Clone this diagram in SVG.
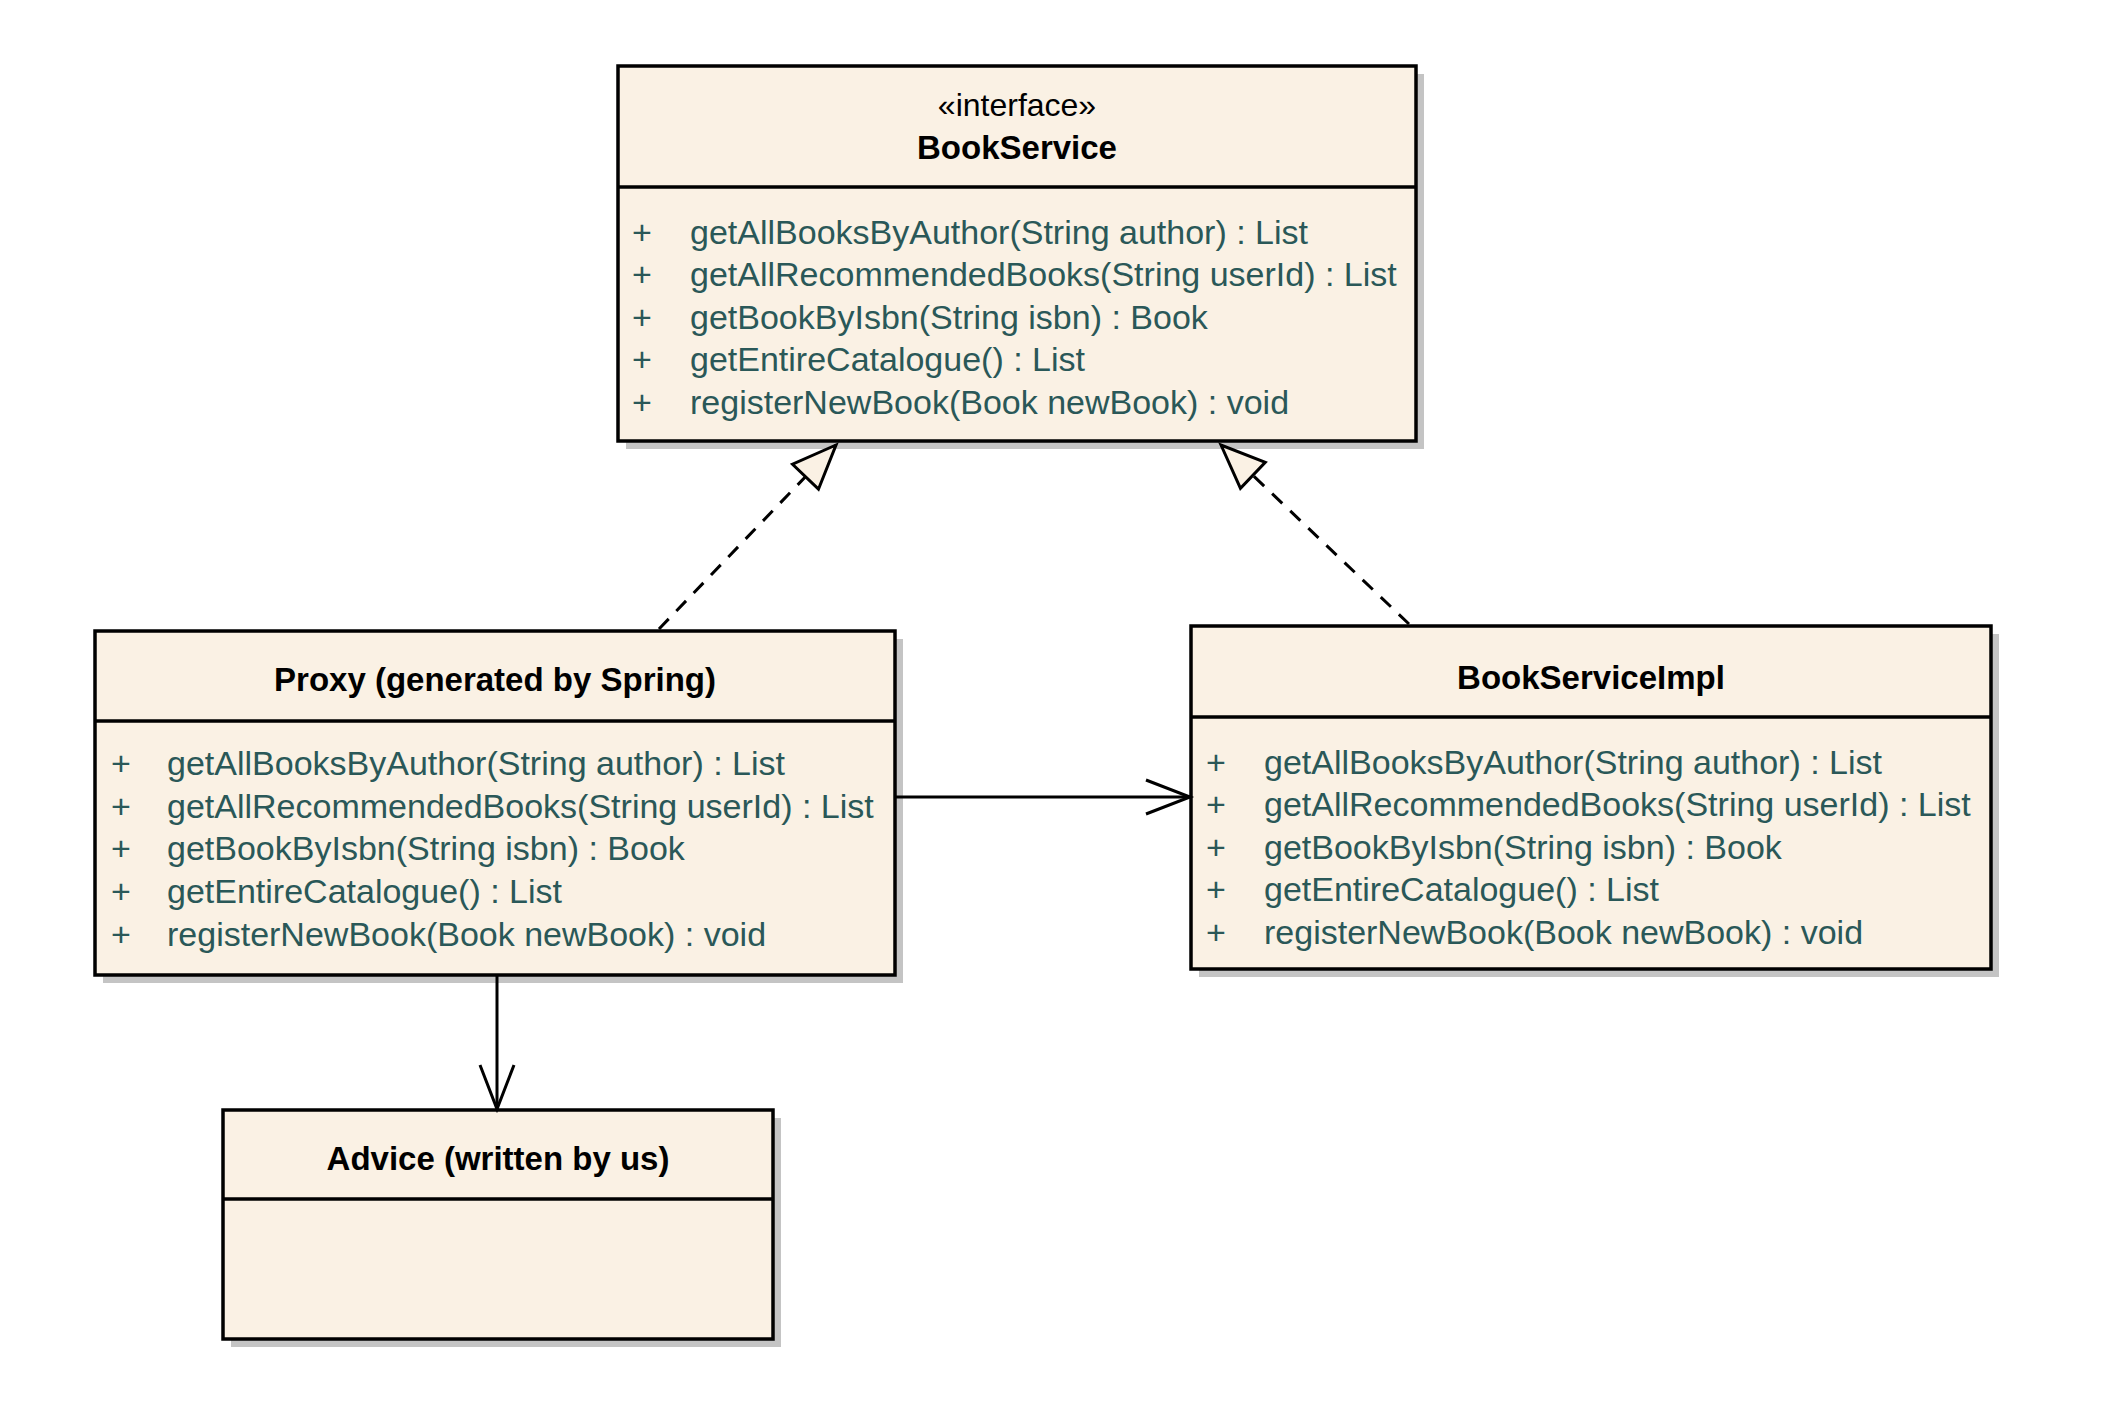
<svg xmlns="http://www.w3.org/2000/svg" width="2108" height="1404" viewBox="0 0 2108 1404">
<defs>
<style>
.shadow{fill:#c4c4c4;stroke:none}
.box{fill:#faf1e4;stroke:#000;stroke-width:3.5}
.div{stroke:#000;stroke-width:3.5}
.title{font-family:"Liberation Sans",Arial,sans-serif;font-size:33px;font-weight:bold;fill:#000;text-anchor:middle}
.stereo{font-family:"Liberation Sans",Arial,sans-serif;font-size:32px;fill:#000;text-anchor:middle}
.op{font-family:"Liberation Sans",Arial,sans-serif;font-size:34px;fill:#2a5858}
.dash{fill:none;stroke:#000;stroke-width:3;stroke-dasharray:14,11}
.solid{fill:none;stroke:#000;stroke-width:3}
.tri{fill:#faf1e4;stroke:#000;stroke-width:3;stroke-dasharray:none;stroke-linejoin:miter}
.open{fill:none;stroke:#000;stroke-width:3;stroke-dasharray:none}
</style>
<marker id="realize" markerUnits="userSpaceOnUse" markerWidth="60" markerHeight="60" viewBox="-50 -25 60 50" refX="0" refY="0" orient="auto">
<path class="tri" d="M0,0 L-44,-18 L-44,18 Z"/>
</marker>
<marker id="arrow" markerUnits="userSpaceOnUse" markerWidth="60" markerHeight="60" viewBox="-50 -25 60 50" refX="0" refY="0" orient="auto">
<path class="open" d="M-44,-17 L0,0 L-44,17"/>
</marker>
</defs>
<rect width="2108" height="1404" fill="#fff"/>

<g id="BookService">
<rect class="shadow" x="626" y="74" width="798" height="375"/>
<rect class="box" x="618" y="66" width="798" height="375"/>
<line class="div" x1="618" y1="187" x2="1416" y2="187"/>
<text class="stereo" x="1017" y="116">«interface»</text>
<text class="title" x="1017" y="159">BookService</text>
<text class="op" x="632" y="244">+</text><text class="op" x="690" y="244">getAllBooksByAuthor(String author) : List</text>
<text class="op" x="632" y="286">+</text><text class="op" x="690" y="286">getAllRecommendedBooks(String userId) : List</text>
<text class="op" x="632" y="329">+</text><text class="op" x="690" y="329">getBookByIsbn(String isbn) : Book</text>
<text class="op" x="632" y="371">+</text><text class="op" x="690" y="371">getEntireCatalogue() : List</text>
<text class="op" x="632" y="414">+</text><text class="op" x="690" y="414">registerNewBook(Book newBook) : void</text>
</g>

<g id="Proxy">
<rect class="shadow" x="103" y="639" width="800" height="344"/>
<rect class="box" x="95" y="631" width="800" height="344"/>
<line class="div" x1="95" y1="721" x2="895" y2="721"/>
<text class="title" x="495" y="691">Proxy (generated by Spring)</text>
<text class="op" x="111" y="775">+</text><text class="op" x="167" y="775">getAllBooksByAuthor(String author) : List</text>
<text class="op" x="111" y="818">+</text><text class="op" x="167" y="818">getAllRecommendedBooks(String userId) : List</text>
<text class="op" x="111" y="860">+</text><text class="op" x="167" y="860">getBookByIsbn(String isbn) : Book</text>
<text class="op" x="111" y="903">+</text><text class="op" x="167" y="903">getEntireCatalogue() : List</text>
<text class="op" x="111" y="946">+</text><text class="op" x="167" y="946">registerNewBook(Book newBook) : void</text>
</g>

<g id="BookServiceImpl">
<rect class="shadow" x="1199" y="634" width="800" height="343"/>
<rect class="box" x="1191" y="626" width="800" height="343"/>
<line class="div" x1="1191" y1="717" x2="1991" y2="717"/>
<text class="title" x="1591" y="689">BookServiceImpl</text>
<text class="op" x="1206" y="774">+</text><text class="op" x="1264" y="774">getAllBooksByAuthor(String author) : List</text>
<text class="op" x="1206" y="816">+</text><text class="op" x="1264" y="816">getAllRecommendedBooks(String userId) : List</text>
<text class="op" x="1206" y="859">+</text><text class="op" x="1264" y="859">getBookByIsbn(String isbn) : Book</text>
<text class="op" x="1206" y="901">+</text><text class="op" x="1264" y="901">getEntireCatalogue() : List</text>
<text class="op" x="1206" y="944">+</text><text class="op" x="1264" y="944">registerNewBook(Book newBook) : void</text>
</g>

<g id="Advice">
<rect class="shadow" x="231" y="1118" width="550" height="229"/>
<rect class="box" x="223" y="1110" width="550" height="229"/>
<line class="div" x1="223" y1="1199" x2="773" y2="1199"/>
<text class="title" x="498" y="1170">Advice (written by us)</text>
</g>

<g id="connectors">
<line class="dash" x1="659" y1="629" x2="836" y2="445" marker-end="url(#realize)"/>
<line class="dash" x1="1409" y1="624" x2="1221" y2="445" marker-end="url(#realize)"/>
<line class="solid" x1="895" y1="797" x2="1190" y2="797" marker-end="url(#arrow)"/>
<line class="solid" x1="497" y1="975" x2="497" y2="1109" marker-end="url(#arrow)"/>
</g>
</svg>
